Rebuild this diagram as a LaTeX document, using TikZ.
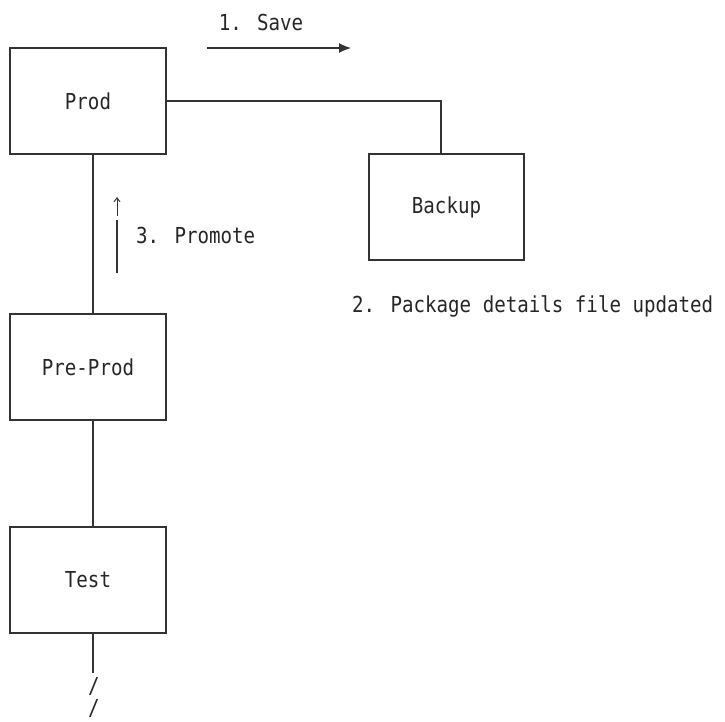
\documentclass[tikz,border=0pt]{standalone}
\usepackage{fontspec}
\newfontfamily\monofont[FakeStretch=0.87]{DejaVu Sans Mono}
\usetikzlibrary{arrows.meta}
\begin{document}
\begin{tikzpicture}[x=1pt,y=-1pt,
  every node/.style={font=\monofont\fontsize{22}{25}\selectfont, text=black!85},
  envbox/.style={draw=black!80, line width=1.2pt, minimum width=156pt, minimum height=106pt, inner sep=0pt},
  conn/.style={draw=black!80, line width=1.2pt},
  lbl/.style={inner sep=0pt}]
\useasboundingbox (0,0) rectangle (725,721);
\node[envbox] (prod) at (88,101) {Prod};
\node[envbox] (preprod) at (88,367) {Pre-Prod};
\node[envbox] (test) at (88,580) {Test};
\node[envbox, minimum width=155pt] (backup) at (446.5,207) {Backup};
% connectors
\coordinate (bk) at (441,154);
\draw[conn] (prod.east) -| (bk);
\draw[conn] ([xshift=5pt]prod.south) -- ([xshift=5pt]preprod.north);
\draw[conn] ([xshift=5pt]preprod.south) -- ([xshift=5pt]test.north);
\coordinate (tend) at (93,673);
\draw[conn] ([xshift=5pt]test.south) -- (tend);
\node[lbl] (s1) at (94,686) {/};
\node[lbl] (s2) at (94,708) {/};
% save arrow
\coordinate (sa) at (207,48);
\coordinate (sb) at (351,48);
\draw[conn, -{Latex[length=12pt,width=10pt]}] (sa) -- (sb);
\node[lbl] (save) at (261,22) {1. Save};
% promote
\coordinate (pa) at (117,273);
\coordinate (pb) at (117,220);
\draw[conn] (pa) -- (pb);
\coordinate (pc) at (117,216);
\coordinate (pd) at (117,197);
\draw[conn, line width=1pt, -{Straight Barb[length=4pt,width=6pt]}] (pc) -- (pd);
\node[lbl, anchor=west] (promote) at (136,235) {3. Promote};
\node[lbl, anchor=west] (pkg) at (352,306) {2. Package details file updated};
\end{tikzpicture}
\end{document}
